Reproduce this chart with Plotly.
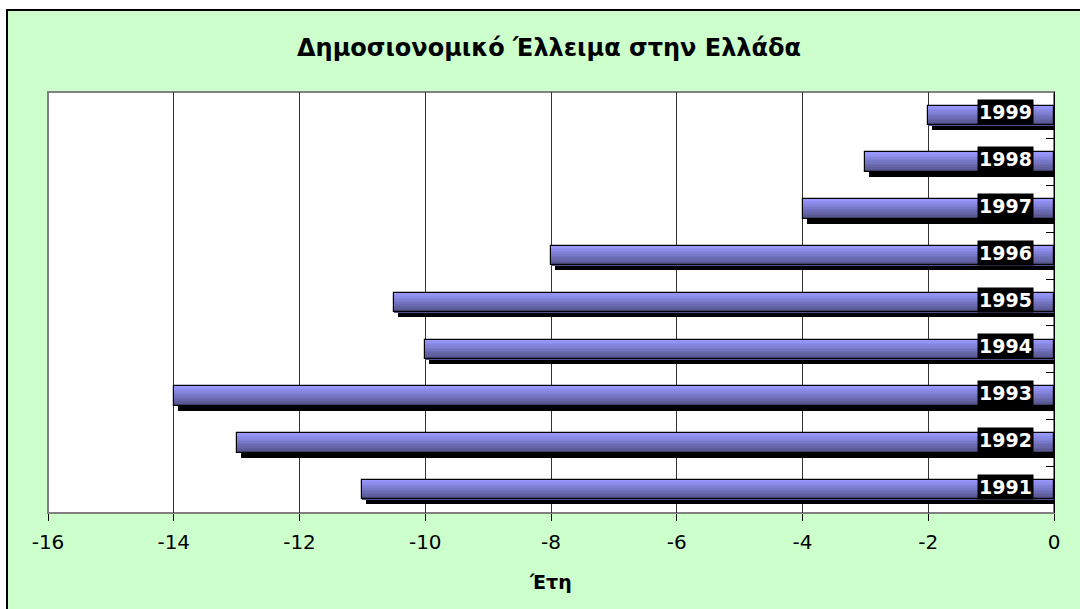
import plotly.graph_objects as go

# Budget deficit of Greece (% of GDP), by year
years = ["1991", "1992", "1993", "1994", "1995", "1996", "1997", "1998", "1999"]
deficit = [-11, -13, -14, -10, -10.5, -8, -4, -3, -2]

x_ticks = [-16, -14, -12, -10, -8, -6, -4, -2, 0]

title_text = "Δημοσιονομικό Έλλειμα στην Ελλάδα"
x_title = "Έτη"

W, H = 1080, 609
ML, MR, MT, MB = 48, 26, 92, 96
plot_w = W - ML - MR
plot_h = H - MT - MB
px_per_unit_x = plot_w / 16.0
px_per_cat = plot_h / len(years)

bar_w = 0.417
shadow_dx = 4 / px_per_unit_x
shadow_dy = 5 / px_per_cat

fig = go.Figure()

# drop shadow behind each bar
fig.add_trace(go.Bar(
    y=years, x=[v + shadow_dx for v in deficit], orientation="h",
    width=bar_w, offset=-bar_w / 2 - shadow_dy,
    marker=dict(color="black", line=dict(width=0)),
    hoverinfo="skip", showlegend=False,
))

# vertical gradient on the bars, built from thin strips (top light, bottom dark)
top_rgb = (152, 152, 255)
bot_rgb = (82, 82, 135)
n_strips = 12
strip = bar_w / n_strips
for i in range(n_strips):
    t = i / (n_strips - 1)
    r = round(top_rgb[0] + (bot_rgb[0] - top_rgb[0]) * t)
    g = round(top_rgb[1] + (bot_rgb[1] - top_rgb[1]) * t)
    b = round(top_rgb[2] + (bot_rgb[2] - top_rgb[2]) * t)
    fig.add_trace(go.Bar(
        y=years, x=deficit, orientation="h",
        width=strip * 1.05, offset=bar_w / 2 - (i + 1) * strip,
        marker=dict(color=f"rgb({r},{g},{b})", line=dict(width=0)),
        hoverinfo="skip", showlegend=False,
    ))

# bar outlines
fig.add_trace(go.Bar(
    y=years, x=deficit, orientation="h",
    width=bar_w, offset=-bar_w / 2,
    marker=dict(color="rgba(0,0,0,0)", line=dict(color="black", width=1.2)),
    hovertemplate="%{y}: %{x}<extra></extra>", showlegend=False,
))

# year labels in black boxes at the right end of each bar
for idx, yr in enumerate(years):
    fig.add_annotation(
        x=0, y=idx, xref="x", yref="y",
        text=f"<b>{yr}</b>", showarrow=False,
        xanchor="right", yanchor="middle", xshift=-20, yshift=3,
        bgcolor="black", borderpad=1,
        font=dict(family="DejaVu Sans", size=19, color="white"),
    )

# x axis title
fig.add_annotation(
    x=(550 - ML) / plot_w, y=(MT + plot_h - 582) / plot_h,
    xref="paper", yref="paper", text=f"<b>{x_title}</b>", showarrow=False,
    xanchor="center", yanchor="middle",
    font=dict(family="DejaVu Sans", size=19, color="black"),
)

# chart frame and plot area background
fig.add_shape(
    type="rect", xref="paper", yref="paper", layer="below",
    x0=(7 - ML) / plot_w, x1=1.2, y0=-0.4, y1=1 + (MT - 10) / plot_h,
    fillcolor="#CCFFCC", line=dict(color="black", width=2),
)
fig.add_shape(
    type="rect", xref="paper", yref="paper", layer="below",
    x0=0, x1=1, y0=0, y1=1,
    fillcolor="white", line=dict(color="#808080", width=2),
)

fig.update_layout(
    width=W, height=H,
    margin=dict(l=ML, r=MR, t=MT, b=MB),
    paper_bgcolor="white", plot_bgcolor="rgba(0,0,0,0)",
    barmode="overlay", bargap=0,
    title=dict(
        text=f"<b>{title_text}</b>",
        x=(549 - ML) / plot_w, xref="paper", xanchor="center",
        y=1 - 48 / H, yref="container", yanchor="middle",
        font=dict(family="DejaVu Sans", size=24, color="black"),
    ),
    xaxis=dict(
        range=[-16, 0], tickvals=x_ticks, ticktext=[str(v) for v in x_ticks],
        showgrid=True, gridcolor="#333333", gridwidth=1,
        zeroline=False, ticks="outside", ticklen=7, tickcolor="black",
        tickfont=dict(family="DejaVu Sans", size=20, color="black"),
        ticklabelstandoff=4,
        showline=False,
    ),
    yaxis=dict(
        type="category", categoryorder="array", categoryarray=years,
        range=[-0.5, len(years) - 0.5],
        side="right", showticklabels=False, showgrid=False, zeroline=False,
        showline=True, linecolor="black", linewidth=1,
        ticks="inside", ticklen=8, tickcolor="black", tickson="boundaries",
    ),
)

fig.write_html("out.html")
